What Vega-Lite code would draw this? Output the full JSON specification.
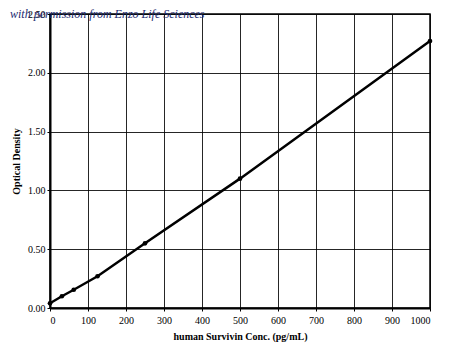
{
  "$schema": "https://vega.github.io/schema/vega-lite/v6.json",
  "width": 380,
  "height": 294,
  "autosize": {"type": "none"},
  "padding": {"left": 50, "top": 14, "right": 20, "bottom": 49},
  "background": "white",
  "config": {
    "view": {"stroke": "black", "strokeWidth": 1.5},
    "font": "Liberation Serif"
  },
  "title": {
    "text": "with permission from Enzo Life Sciences",
    "anchor": "start",
    "frame": "group",
    "orient": "top",
    "dx": -40,
    "dy": 12,
    "offset": 0,
    "font": "Liberation Serif",
    "fontStyle": "italic",
    "fontWeight": "normal",
    "fontSize": 12,
    "color": "#1c2a70"
  },
  "data": {
    "values": [
      {"conc": 0, "od": 0.04},
      {"conc": 31.25, "od": 0.10},
      {"conc": 62.5, "od": 0.155},
      {"conc": 125, "od": 0.27},
      {"conc": 250, "od": 0.55},
      {"conc": 500, "od": 1.10},
      {"conc": 1000, "od": 2.27}
    ]
  },
  "encoding": {
    "x": {
      "field": "conc",
      "type": "quantitative",
      "scale": {"domain": [0, 1000], "nice": false},
      "axis": {
        "title": "human Survivin Conc. (pg/mL)",
        "values": [0,100,200,300,400,500,600,700,800,900,1000],
        "format": "d",
        "grid": true, "gridColor": "black", "gridWidth": 1, "gridOpacity": 0.85,
        "domainColor": "black", "domainWidth": 2,
        "tickColor": "black", "tickSize": 3,
        "labelFont": "Liberation Serif", "labelFontSize": 10, "labelColor": "black",
        "labelPadding": 4,
        "titleFont": "Liberation Serif", "titleFontSize": 10, "titleFontWeight": "bold", "titleColor": "black",
        "titlePadding": 6
      }
    },
    "y": {
      "field": "od",
      "type": "quantitative",
      "scale": {"domain": [0, 2.5], "nice": false},
      "axis": {
        "title": "Optical Density",
        "values": [0, 0.5, 1, 1.5, 2, 2.5],
        "format": ".2f",
        "grid": true, "gridColor": "black", "gridWidth": 1, "gridOpacity": 0.85,
        "domainColor": "black", "domainWidth": 2,
        "tickColor": "black", "tickSize": 3,
        "labelFont": "Liberation Serif", "labelFontSize": 10, "labelColor": "black",
        "labelPadding": 2,
        "titleFont": "Liberation Serif", "titleFontSize": 10, "titleFontWeight": "bold", "titleColor": "black",
        "titlePadding": 6
      }
    }
  },
  "layer": [
    {"mark": {"type": "line", "color": "black", "strokeWidth": 2.5}},
    {"mark": {"type": "point", "filled": true, "color": "black", "size": 22, "opacity": 1}}
  ]
}
